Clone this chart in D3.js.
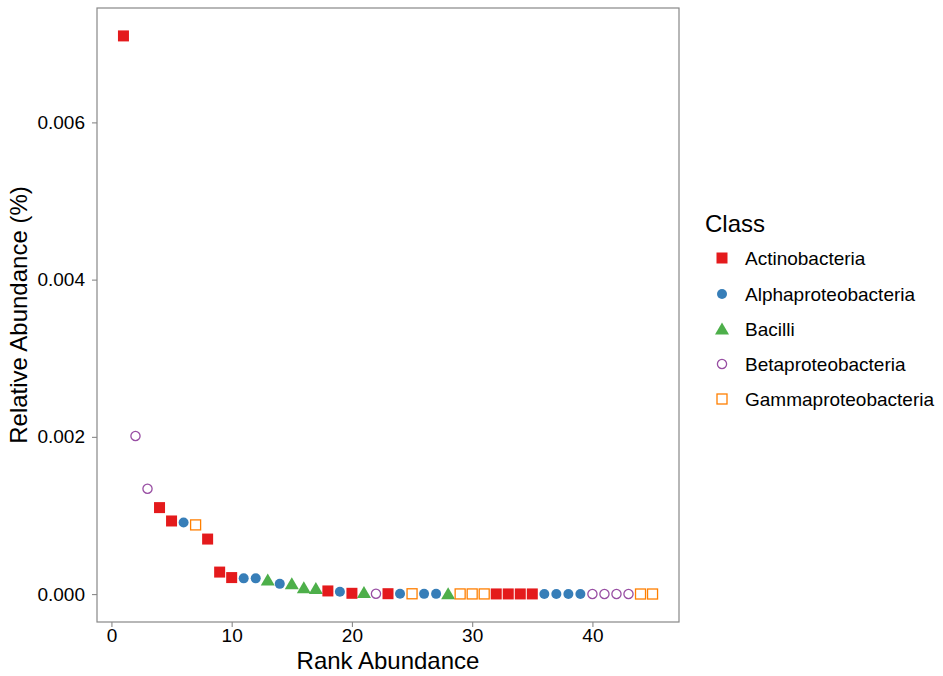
<!DOCTYPE html>
<html>
<head>
<meta charset="utf-8">
<script src="https://cdn.jsdelivr.net/npm/d3@7"></script>
<style>
  body { margin: 0; background: #fff; }
  text { font-family: "Liberation Sans", Arial, sans-serif; fill: #000; }
</style>
</head>
<body>
<div id="chart"></div>
<script>
// rank 1..45, class of each OTU and its relative abundance
var classes = ["Actinobacteria", "Alphaproteobacteria", "Bacilli", "Betaproteobacteria", "Gammaproteobacteria"];
var colors = ["#E41A1C", "#377EB8", "#4DAF4A", "#984EA3", "#FF7F00"];
var shapes = ["square", "circle", "triangle", "ocircle", "osquare"];

var ranks = d3.range(1, 46);
var otuClass = [
    "Actinobacteria", "Betaproteobacteria", "Betaproteobacteria", "Actinobacteria", "Actinobacteria",
    "Alphaproteobacteria", "Gammaproteobacteria", "Actinobacteria", "Actinobacteria", "Actinobacteria",
    "Alphaproteobacteria", "Alphaproteobacteria", "Bacilli", "Alphaproteobacteria", "Bacilli",
    "Bacilli", "Bacilli", "Actinobacteria", "Alphaproteobacteria", "Actinobacteria",
    "Bacilli", "Betaproteobacteria", "Actinobacteria", "Alphaproteobacteria", "Gammaproteobacteria",
    "Alphaproteobacteria", "Alphaproteobacteria", "Bacilli", "Gammaproteobacteria", "Gammaproteobacteria",
    "Gammaproteobacteria", "Actinobacteria", "Actinobacteria", "Actinobacteria", "Actinobacteria",
    "Alphaproteobacteria", "Alphaproteobacteria", "Alphaproteobacteria", "Alphaproteobacteria", "Betaproteobacteria",
    "Betaproteobacteria", "Betaproteobacteria", "Betaproteobacteria", "Gammaproteobacteria", "Gammaproteobacteria"
];
var abundance = [
    0.00710, 0.00201, 0.00134, 0.00110, 0.00093,
    0.00091, 0.00088, 0.00070, 0.00028, 0.00021,
    0.00020, 0.00020, 0.00018, 0.00013, 0.00013,
    0.00008, 0.00007, 0.00004, 0.00003, 0.00001,
    0.00002, 0.000005, 0.000005, 0.000004, 0.000004,
    0.000003, 0.000003, 0.000003, 0.000002, 0.000002,
    0.000002, 0.000002, 0.000002, 0.000002, 0.000002,
    0.000001, 0.000001, 0.000001, 0.000001, 0.000001,
    0.000001, 0.000001, 0.000001, 0.000001, 0.000001
];
var xTicks = [0, 10, 20, 30, 40];
var yTicks = [0, 0.002, 0.004, 0.006];

var width = 943, height = 676;
var panel = {left: 97, right: 679, top: 8, bottom: 622};

var svg = d3.select("#chart").append("svg").attr("width", width).attr("height", height);

// ggplot style 5% expansion
var xPad = (45 - 1) * 0.05;
var x = d3.scaleLinear().domain([1 - xPad, 45 + xPad]).range([panel.left, panel.right]);
var yMax = d3.max(abundance);
var y = d3.scaleLinear().domain([-yMax * 0.05, yMax * 1.05]).range([panel.bottom, panel.top]);

var color = d3.scaleOrdinal().domain(classes).range(colors);
var shape = d3.scaleOrdinal().domain(classes).range(shapes);

function drawSymbol(g, kind, c) {
    if (kind == "square") {
        g.append("rect").attr("x", -5.5).attr("y", -5.5).attr("width", 11).attr("height", 11).attr("fill", c);
    } else if (kind == "circle") {
        g.append("circle").attr("r", 5).attr("fill", c);
    } else if (kind == "triangle") {
        g.append("path").attr("d", "M0,-6.5L7,5.5L-7,5.5Z").attr("fill", c);
    } else if (kind == "ocircle") {
        g.append("circle").attr("r", 4.6).attr("fill", "none").attr("stroke", c).attr("stroke-width", 1.3);
    } else if (kind == "osquare") {
        g.append("rect").attr("x", -5).attr("y", -5).attr("width", 10).attr("height", 10)
            .attr("fill", "none").attr("stroke", c).attr("stroke-width", 1.3);
    }
}

// axes
var xAxis = svg.append("g").attr("transform", "translate(0," + panel.bottom + ")")
    .call(d3.axisBottom(x).tickValues(xTicks).tickSize(5).tickPadding(2).tickFormat(d3.format("d")));
var yAxis = svg.append("g").attr("transform", "translate(" + panel.left + ",0)")
    .call(d3.axisLeft(y).tickValues(yTicks).tickSize(5).tickPadding(7).tickFormat(d3.format(".3f")));
[xAxis, yAxis].forEach(function (a) {
    a.select(".domain").remove();
    a.selectAll(".tick line").attr("stroke", "#888").attr("stroke-width", 1.1);
    a.selectAll(".tick text").attr("font-size", 19).attr("fill", "#000")
        .style("font-family", "'Liberation Sans', Arial, sans-serif");
});

// points
var pts = ranks.map(function (r, i) {
    return {rank: r, cls: otuClass[i], value: abundance[i]};
});
svg.append("g").selectAll("g").data(pts).enter().append("g")
    .attr("transform", function (d) { return "translate(" + x(d.rank) + "," + y(d.value) + ")"; })
    .each(function (d) { drawSymbol(d3.select(this), shape(d.cls), color(d.cls)); });

// panel border
svg.append("rect").attr("x", panel.left).attr("y", panel.top)
    .attr("width", panel.right - panel.left).attr("height", panel.bottom - panel.top)
    .attr("fill", "none").attr("stroke", "#888").attr("stroke-width", 1.2);

// titles
svg.append("text").attr("x", (panel.left + panel.right) / 2).attr("y", 669)
    .attr("text-anchor", "middle").attr("font-size", 24).text("Rank Abundance");
svg.append("text").attr("transform", "translate(27," + ((panel.top + panel.bottom) / 2) + ") rotate(-90)")
    .attr("text-anchor", "middle").attr("font-size", 24).text("Relative Abundance (%)");

// legend
var legend = svg.append("g").attr("transform", "translate(705,0)");
legend.append("text").attr("x", 0).attr("y", 232).attr("font-size", 24).text("Class");
var keyY = [258, 294, 329, 364, 399];
classes.forEach(function (c, i) {
    var k = legend.append("g").attr("transform", "translate(17," + keyY[i] + ")");
    drawSymbol(k, shapes[i], colors[i]);
    legend.append("text").attr("x", 40).attr("y", keyY[i] + 7).attr("font-size", 19).text(c);
});
</script>
</body>
</html>
